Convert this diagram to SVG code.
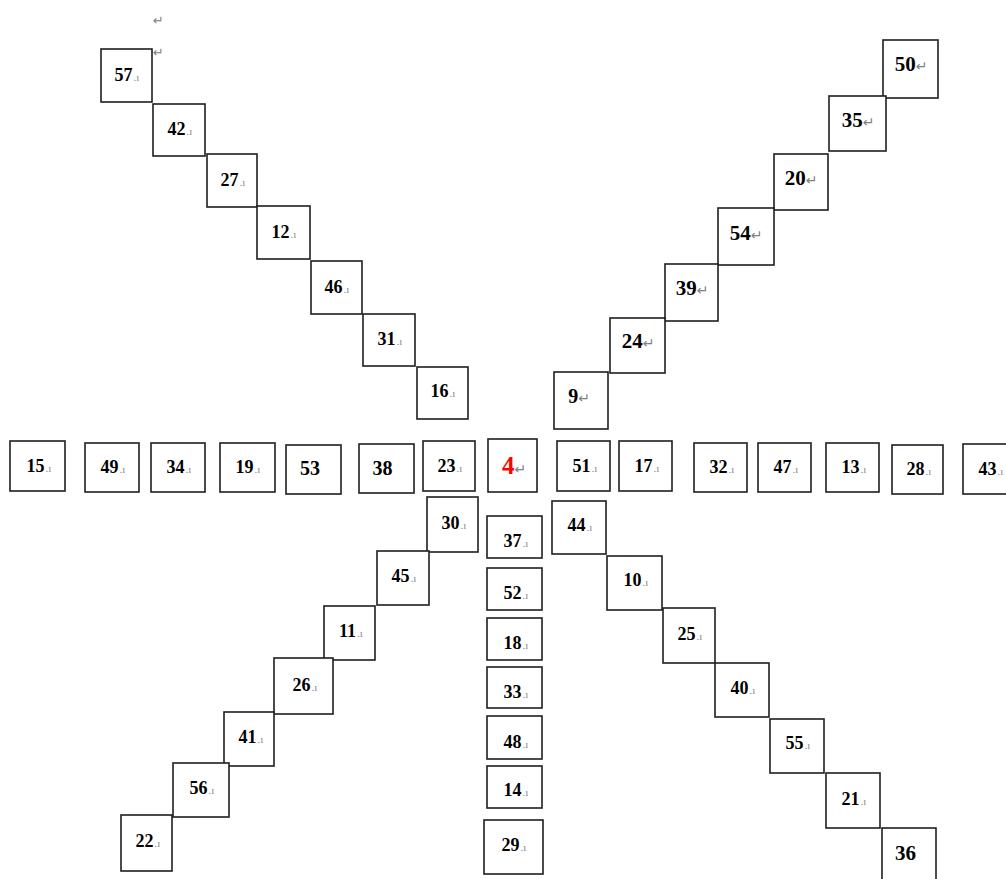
<svg xmlns="http://www.w3.org/2000/svg" width="1006" height="879" viewBox="0 0 1006 879">
<style>
rect{fill:#fff;stroke:#1e1e1e;stroke-width:1.6}
text{font-family:"Liberation Serif","Times New Roman",serif;font-weight:bold;font-size:18px;fill:#000;text-anchor:middle}
.big{font-size:21px}
.mid{font-size:20px}
.red{font-size:25px;fill:#ff0000}
.m{font-size:11px;fill:#8a8a8a;font-weight:normal}
.r{font-family:"DejaVu Sans",sans-serif;font-size:14px;fill:#808080;font-weight:normal}
.free{font-family:"DejaVu Sans",sans-serif;font-size:13px;fill:#808080;font-weight:normal;text-anchor:start}
</style>
<text class="free" x="153" y="25">↵</text>
<text class="free" x="153" y="57">↵</text>
<g id="n57"><rect x="101" y="49" width="51" height="53"/><text x="127" y="81">57<tspan class="m" dx="1">.ı</tspan></text></g>
<g id="n42"><rect x="153" y="104" width="52" height="52"/><text x="180" y="135">42<tspan class="m" dx="1">.ı</tspan></text></g>
<g id="n27"><rect x="207" y="154" width="50" height="53"/><text x="233" y="186">27<tspan class="m" dx="1">.ı</tspan></text></g>
<g id="n12"><rect x="257" y="206" width="53" height="53"/><text x="284" y="237.5">12<tspan class="m" dx="1">.ı</tspan></text></g>
<g id="n46"><rect x="311" y="261" width="51" height="53"/><text x="337" y="292.5">46<tspan class="m" dx="1">.ı</tspan></text></g>
<g id="n31"><rect x="363" y="314" width="52" height="52"/><text x="390" y="345">31<tspan class="m" dx="1">.ı</tspan></text></g>
<g id="n16"><rect x="417" y="367" width="51" height="52"/><text x="443" y="397">16<tspan class="m" dx="1">.ı</tspan></text></g>
<g id="n50"><rect x="883" y="40" width="55" height="58"/><text class="big" x="911" y="71">50<tspan class="r">↵</tspan></text></g>
<g id="n35"><rect x="829" y="96" width="57" height="55"/><text class="big" x="858" y="126.5">35<tspan class="r">↵</tspan></text></g>
<g id="n20"><rect x="774" y="154" width="54" height="56"/><text class="big" x="801" y="185">20<tspan class="r">↵</tspan></text></g>
<g id="n54"><rect x="718" y="208" width="56" height="57"/><text class="big" x="746" y="240">54<tspan class="r">↵</tspan></text></g>
<g id="n39"><rect x="665" y="264" width="53" height="57"/><text class="big" x="692" y="295">39<tspan class="r">↵</tspan></text></g>
<g id="n24"><rect x="610" y="318" width="55" height="55"/><text class="big" x="638" y="348">24<tspan class="r">↵</tspan></text></g>
<g id="n9"><rect x="554" y="372" width="54" height="57"/><text class="mid" x="579" y="403">9<tspan class="r">↵</tspan></text></g>
<g id="n15"><rect x="10" y="441" width="55" height="50"/><text x="39" y="472">15<tspan class="m" dx="1">.ı</tspan></text></g>
<g id="n49"><rect x="85" y="443" width="54" height="49"/><text x="113" y="473">49<tspan class="m" dx="1">.ı</tspan></text></g>
<g id="n34"><rect x="151" y="443" width="54" height="49"/><text x="179" y="473">34<tspan class="m" dx="1">.ı</tspan></text></g>
<g id="n19"><rect x="220" y="443" width="55" height="49"/><text x="248" y="473">19<tspan class="m" dx="1">.ı</tspan></text></g>
<g id="n53"><rect x="286" y="445" width="55" height="49"/><text class="mid" x="310" y="475">53</text></g>
<g id="n38"><rect x="359" y="444" width="55" height="49"/><text class="mid" x="382.5" y="475">38</text></g>
<g id="n23"><rect x="423" y="441" width="52" height="50"/><text x="450" y="472">23<tspan class="m" dx="1">.ı</tspan></text></g>
<g id="n4"><rect x="488" y="439" width="49" height="53"/><text class="red" x="514" y="473.5">4<tspan class="r">↵</tspan></text></g>
<g id="n51"><rect x="557" y="441" width="53" height="50"/><text x="585" y="472">51<tspan class="m" dx="1">.ı</tspan></text></g>
<g id="n17"><rect x="619" y="441" width="53" height="50"/><text x="647" y="472">17<tspan class="m" dx="1">.ı</tspan></text></g>
<g id="n32"><rect x="694" y="443" width="53" height="49"/><text x="722" y="473">32<tspan class="m" dx="1">.ı</tspan></text></g>
<g id="n47"><rect x="758" y="443" width="53" height="49"/><text x="786" y="473">47<tspan class="m" dx="1">.ı</tspan></text></g>
<g id="n13"><rect x="826" y="443" width="53" height="49"/><text x="854" y="473">13<tspan class="m" dx="1">.ı</tspan></text></g>
<g id="n28"><rect x="892" y="445" width="51" height="49"/><text x="919" y="475">28<tspan class="m" dx="1">.ı</tspan></text></g>
<g id="n43"><rect x="963" y="444" width="55" height="50"/><text x="991" y="475">43<tspan class="m" dx="1">.ı</tspan></text></g>
<g id="n30"><rect x="427" y="497" width="51" height="55"/><text x="454" y="529">30<tspan class="m" dx="1">.ı</tspan></text></g>
<g id="n45"><rect x="377" y="551" width="52" height="54"/><text x="404" y="582">45<tspan class="m" dx="1">.ı</tspan></text></g>
<g id="n11"><rect x="324" y="606" width="51" height="54"/><text x="351" y="637">11<tspan class="m" dx="1">.ı</tspan></text></g>
<g id="n26"><rect x="274" y="658" width="59" height="56"/><text x="305" y="691">26<tspan class="m" dx="1">.ı</tspan></text></g>
<g id="n41"><rect x="224" y="712" width="50" height="54"/><text x="251" y="743">41<tspan class="m" dx="1">.ı</tspan></text></g>
<g id="n56"><rect x="173" y="763" width="56" height="54"/><text x="202" y="794">56<tspan class="m" dx="1">.ı</tspan></text></g>
<g id="n22"><rect x="121" y="815" width="51" height="56"/><text x="148" y="847">22<tspan class="m" dx="1">.ı</tspan></text></g>
<g id="n37"><rect x="487" y="516" width="55" height="42"/><text x="516" y="547">37<tspan class="m" dx="1">.ı</tspan></text></g>
<g id="n52"><rect x="487" y="568" width="55" height="42"/><text x="516" y="599">52<tspan class="m" dx="1">.ı</tspan></text></g>
<g id="n18"><rect x="487" y="618" width="55" height="42"/><text x="516" y="649">18<tspan class="m" dx="1">.ı</tspan></text></g>
<g id="n33"><rect x="487" y="667" width="55" height="41"/><text x="516" y="698">33<tspan class="m" dx="1">.ı</tspan></text></g>
<g id="n48"><rect x="487" y="716" width="55" height="43"/><text x="516" y="748">48<tspan class="m" dx="1">.ı</tspan></text></g>
<g id="n14"><rect x="487" y="766" width="55" height="42"/><text x="516" y="796">14<tspan class="m" dx="1">.ı</tspan></text></g>
<g id="n29"><rect x="484" y="820" width="59" height="54"/><text x="514" y="851">29<tspan class="m" dx="1">.ı</tspan></text></g>
<g id="n44"><rect x="552" y="501" width="54" height="53"/><text x="580" y="531">44<tspan class="m" dx="1">.ı</tspan></text></g>
<g id="n10"><rect x="607" y="556" width="55" height="54"/><text x="636" y="586">10<tspan class="m" dx="1">.ı</tspan></text></g>
<g id="n25"><rect x="663" y="608" width="52" height="55"/><text x="690" y="640">25<tspan class="m" dx="1">.ı</tspan></text></g>
<g id="n40"><rect x="715" y="663" width="54" height="54"/><text x="743" y="694">40<tspan class="m" dx="1">.ı</tspan></text></g>
<g id="n55"><rect x="770" y="719" width="54" height="54"/><text x="798" y="749">55<tspan class="m" dx="1">.ı</tspan></text></g>
<g id="n21"><rect x="826" y="773" width="54" height="55"/><text x="854" y="805">21<tspan class="m" dx="1">.ı</tspan></text></g>
<g id="n36"><rect x="882" y="828" width="54" height="56"/><text class="big" x="905.5" y="860">36</text></g>
</svg>
